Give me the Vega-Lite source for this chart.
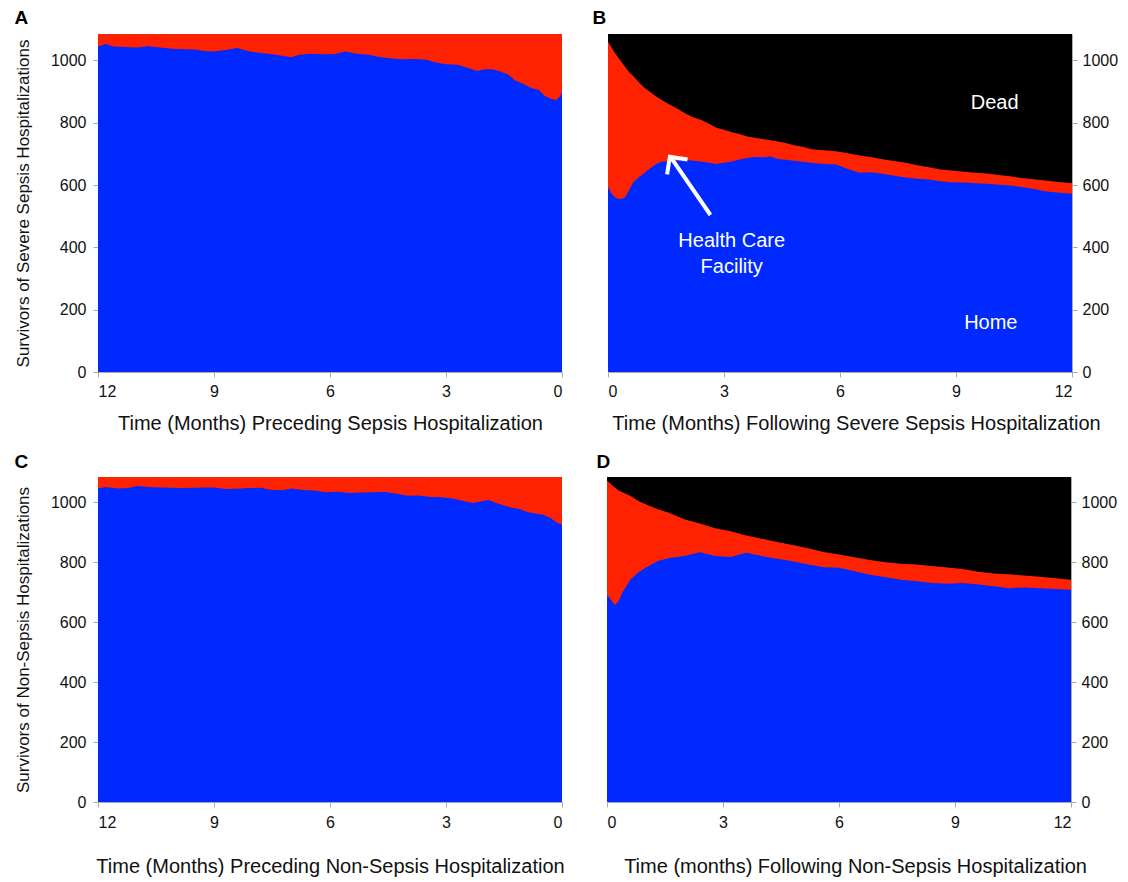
{
  "$schema": "https://vega.github.io/schema/vega-lite/v6.json",
  "padding": {"left": 14, "top": 9, "right": 2, "bottom": 2},
  "background": "white",
  "config": {
    "font": "Liberation Sans",
    "view": {"stroke": null},
    "axis": {"grid": false, "domainColor": "#aaaaaa", "tickColor": "#aaaaaa", "tickSize": 5, "labelFontSize": 16, "labelColor": "#111111", "titleColor": "#111111", "titleFontWeight": "normal", "labelFont": "Liberation Sans", "titleFont": "Liberation Sans"},
    "title": {"fontSize": 19, "fontWeight": "bold", "anchor": "start", "color": "#000000", "font": "Liberation Sans"}
  },
  "datasets": {
    "a": [
      {"m": 12, "home": 1045}, {"m": 11.8, "home": 1053}, {"m": 11.6, "home": 1045}, {"m": 11.3, "home": 1043}, {"m": 11.0, "home": 1042},
      {"m": 10.7, "home": 1046}, {"m": 10.4, "home": 1042}, {"m": 10.1, "home": 1038}, {"m": 9.8, "home": 1036}, {"m": 9.5, "home": 1035},
      {"m": 9.2, "home": 1030}, {"m": 9.0, "home": 1029}, {"m": 8.7, "home": 1034}, {"m": 8.4, "home": 1040}, {"m": 8.1, "home": 1030},
      {"m": 7.8, "home": 1024}, {"m": 7.5, "home": 1020}, {"m": 7.2, "home": 1014}, {"m": 7.0, "home": 1010}, {"m": 6.8, "home": 1018},
      {"m": 6.5, "home": 1022}, {"m": 6.2, "home": 1020}, {"m": 5.9, "home": 1020}, {"m": 5.6, "home": 1029}, {"m": 5.3, "home": 1022},
      {"m": 5.0, "home": 1018}, {"m": 4.7, "home": 1010}, {"m": 4.4, "home": 1006}, {"m": 4.1, "home": 1004}, {"m": 3.8, "home": 1005},
      {"m": 3.5, "home": 1002}, {"m": 3.3, "home": 994}, {"m": 3.0, "home": 988}, {"m": 2.7, "home": 986}, {"m": 2.4, "home": 975},
      {"m": 2.2, "home": 966}, {"m": 2.0, "home": 972}, {"m": 1.8, "home": 972}, {"m": 1.6, "home": 965}, {"m": 1.4, "home": 955},
      {"m": 1.2, "home": 935}, {"m": 1.0, "home": 925}, {"m": 0.8, "home": 912}, {"m": 0.6, "home": 905}, {"m": 0.45, "home": 886},
      {"m": 0.3, "home": 878}, {"m": 0.15, "home": 872}, {"m": 0.05, "home": 885}, {"m": 0, "home": 900}
    ],
    "b": [
      {"m": 0, "alive": 1060, "home": 595}, {"m": 0.08, "alive": 1045, "home": 575}, {"m": 0.16, "alive": 1027, "home": 563},
      {"m": 0.25, "alive": 1012, "home": 556}, {"m": 0.35, "alive": 995, "home": 555}, {"m": 0.45, "alive": 978, "home": 562},
      {"m": 0.55, "alive": 962, "home": 585}, {"m": 0.65, "alive": 950, "home": 608}, {"m": 0.8, "alive": 930, "home": 625},
      {"m": 0.95, "alive": 912, "home": 640}, {"m": 1.1, "alive": 898, "home": 655}, {"m": 1.25, "alive": 884, "home": 668},
      {"m": 1.4, "alive": 872, "home": 676}, {"m": 1.6, "alive": 858, "home": 675}, {"m": 1.8, "alive": 845, "home": 678},
      {"m": 2.0, "alive": 830, "home": 681}, {"m": 2.2, "alive": 818, "home": 678}, {"m": 2.4, "alive": 810, "home": 676},
      {"m": 2.6, "alive": 798, "home": 672}, {"m": 2.8, "alive": 784, "home": 668}, {"m": 3.0, "alive": 778, "home": 672},
      {"m": 3.2, "alive": 770, "home": 676}, {"m": 3.4, "alive": 764, "home": 682}, {"m": 3.6, "alive": 756, "home": 687},
      {"m": 3.8, "alive": 752, "home": 690}, {"m": 4.0, "alive": 748, "home": 689}, {"m": 4.2, "alive": 744, "home": 692},
      {"m": 4.4, "alive": 740, "home": 684}, {"m": 4.6, "alive": 735, "home": 681}, {"m": 4.8, "alive": 728, "home": 678},
      {"m": 5.0, "alive": 724, "home": 676}, {"m": 5.3, "alive": 714, "home": 671}, {"m": 5.6, "alive": 712, "home": 668},
      {"m": 5.9, "alive": 709, "home": 666}, {"m": 6.2, "alive": 702, "home": 652}, {"m": 6.5, "alive": 695, "home": 640},
      {"m": 6.8, "alive": 690, "home": 641}, {"m": 7.1, "alive": 683, "home": 636}, {"m": 7.4, "alive": 677, "home": 630},
      {"m": 7.7, "alive": 672, "home": 624}, {"m": 8.0, "alive": 664, "home": 620}, {"m": 8.3, "alive": 657, "home": 618},
      {"m": 8.6, "alive": 650, "home": 612}, {"m": 8.9, "alive": 647, "home": 608}, {"m": 9.2, "alive": 643, "home": 608},
      {"m": 9.5, "alive": 640, "home": 606}, {"m": 9.8, "alive": 637, "home": 604}, {"m": 10.1, "alive": 632, "home": 601},
      {"m": 10.4, "alive": 628, "home": 599}, {"m": 10.7, "alive": 623, "home": 594}, {"m": 11.0, "alive": 619, "home": 588},
      {"m": 11.3, "alive": 615, "home": 580}, {"m": 11.6, "alive": 611, "home": 576}, {"m": 12.0, "alive": 606, "home": 572}
    ],
    "c": [
      {"m": 12, "home": 1047}, {"m": 11.8, "home": 1052}, {"m": 11.5, "home": 1047}, {"m": 11.2, "home": 1048}, {"m": 11.0, "home": 1055},
      {"m": 10.7, "home": 1052}, {"m": 10.4, "home": 1050}, {"m": 10.1, "home": 1049}, {"m": 9.8, "home": 1048}, {"m": 9.5, "home": 1049},
      {"m": 9.2, "home": 1050}, {"m": 9.0, "home": 1050}, {"m": 8.7, "home": 1045}, {"m": 8.4, "home": 1046}, {"m": 8.1, "home": 1048},
      {"m": 7.8, "home": 1049}, {"m": 7.5, "home": 1042}, {"m": 7.2, "home": 1042}, {"m": 7.0, "home": 1047}, {"m": 6.7, "home": 1042},
      {"m": 6.4, "home": 1040}, {"m": 6.1, "home": 1034}, {"m": 5.8, "home": 1036}, {"m": 5.5, "home": 1032}, {"m": 5.2, "home": 1033},
      {"m": 4.9, "home": 1034}, {"m": 4.6, "home": 1035}, {"m": 4.3, "home": 1030}, {"m": 4.0, "home": 1022}, {"m": 3.7, "home": 1023},
      {"m": 3.4, "home": 1018}, {"m": 3.1, "home": 1017}, {"m": 2.8, "home": 1012}, {"m": 2.5, "home": 1003}, {"m": 2.3, "home": 998},
      {"m": 2.1, "home": 1003}, {"m": 1.9, "home": 1008}, {"m": 1.7, "home": 998}, {"m": 1.5, "home": 990}, {"m": 1.3, "home": 982},
      {"m": 1.1, "home": 978}, {"m": 0.9, "home": 968}, {"m": 0.7, "home": 963}, {"m": 0.5, "home": 960}, {"m": 0.3, "home": 948},
      {"m": 0.15, "home": 935}, {"m": 0.05, "home": 927}, {"m": 0, "home": 927}
    ],
    "d": [
      {"m": 0, "alive": 1073, "home": 692}, {"m": 0.1, "alive": 1062, "home": 675}, {"m": 0.2, "alive": 1050, "home": 658},
      {"m": 0.3, "alive": 1040, "home": 670}, {"m": 0.4, "alive": 1034, "home": 700}, {"m": 0.5, "alive": 1028, "home": 720},
      {"m": 0.6, "alive": 1022, "home": 742}, {"m": 0.8, "alive": 1006, "home": 765}, {"m": 1.0, "alive": 994, "home": 782},
      {"m": 1.3, "alive": 978, "home": 804}, {"m": 1.6, "alive": 966, "home": 815}, {"m": 2.0, "alive": 944, "home": 821},
      {"m": 2.4, "alive": 930, "home": 834}, {"m": 2.8, "alive": 914, "home": 821}, {"m": 3.2, "alive": 904, "home": 818},
      {"m": 3.6, "alive": 890, "home": 832}, {"m": 4.0, "alive": 879, "home": 821}, {"m": 4.4, "alive": 868, "home": 812},
      {"m": 4.8, "alive": 858, "home": 804}, {"m": 5.2, "alive": 847, "home": 793}, {"m": 5.6, "alive": 835, "home": 784},
      {"m": 6.0, "alive": 826, "home": 782}, {"m": 6.4, "alive": 817, "home": 770}, {"m": 6.8, "alive": 808, "home": 759},
      {"m": 7.2, "alive": 800, "home": 750}, {"m": 7.6, "alive": 795, "home": 742}, {"m": 8.0, "alive": 793, "home": 737},
      {"m": 8.4, "alive": 788, "home": 731}, {"m": 8.8, "alive": 783, "home": 729}, {"m": 9.2, "alive": 778, "home": 731},
      {"m": 9.6, "alive": 769, "home": 726}, {"m": 10.0, "alive": 763, "home": 720}, {"m": 10.4, "alive": 760, "home": 714},
      {"m": 10.8, "alive": 756, "home": 716}, {"m": 11.2, "alive": 752, "home": 714}, {"m": 11.6, "alive": 747, "home": 711},
      {"m": 12.0, "alive": 742, "home": 709}
    ]
  },
  "spacing": 20,
  "vconcat": [
    {
      "spacing": 29,
      "hconcat": [
        {
          "width": 464, "height": 338,
          "title": {"text": "A", "offset": 6},
          "data": {"name": "a"},
          "layer": [
            {"mark": {"type": "area", "color": "#ff2200"},
             "encoding": {
               "x": {"field": "m", "type": "quantitative", "title": "Time (Months) Preceding Sepsis Hospitalization",
                     "scale": {"domain": [0, 12], "reverse": true, "nice": false, "zero": false},
                     "axis": {"values": [0, 3, 6, 9, 12], "titleFontSize": 20, "labelPadding": 6, "titlePadding": 14, "labelDx": 5}},
               "y": {"datum": 1085, "type": "quantitative", "title": "Survivors of Severe Sepsis Hospitalizations",
                     "scale": {"domain": [0, 1085], "nice": false},
                     "axis": {"values": [0, 200, 400, 600, 800, 1000], "format": "d", "titleFontSize": 17, "titlePadding": 18, "labelPadding": 7}}}},
            {"mark": {"type": "area", "color": "#0029ff"},
             "encoding": {
               "x": {"field": "m", "type": "quantitative", "title": "Time (Months) Preceding Sepsis Hospitalization"},
               "y": {"field": "home", "type": "quantitative", "title": "Survivors of Severe Sepsis Hospitalizations"}}}
          ]
        },
        {
          "width": 464, "height": 338,
          "title": {"text": "B", "dx": -15, "offset": 6},
          "data": {"name": "b"},
          "layer": [
            {"mark": {"type": "area", "color": "#000000"},
             "encoding": {
               "x": {"field": "m", "type": "quantitative", "title": "Time (Months) Following Severe Sepsis Hospitalization",
                     "scale": {"domain": [0, 12], "nice": false, "zero": false},
                     "axis": {"values": [0, 3, 6, 9, 12], "titleFontSize": 20, "labelPadding": 6, "titlePadding": 14, "labelDx": 5, "titleX": 248}},
               "y": {"datum": 1085, "type": "quantitative", "title": null,
                     "scale": {"domain": [0, 1085], "nice": false},
                     "axis": {"orient": "right", "values": [0, 200, 400, 600, 800, 1000], "format": "d", "labelPadding": 5}}}},
            {"mark": {"type": "area", "color": "#ff2200"},
             "encoding": {
               "x": {"field": "m", "type": "quantitative", "title": "Time (Months) Following Severe Sepsis Hospitalization"},
               "y": {"field": "alive", "type": "quantitative", "title": null}}},
            {"mark": {"type": "area", "color": "#0029ff"},
             "encoding": {
               "x": {"field": "m", "type": "quantitative", "title": "Time (Months) Following Severe Sepsis Hospitalization"},
               "y": {"field": "home", "type": "quantitative", "title": null}}},
            {"data": {"values": [{"label": "Dead"}]},
             "mark": {"type": "text", "color": "white", "fontSize": 20, "align": "center", "baseline": "middle"},
             "encoding": {"text": {"field": "label"}, "x": {"datum": 10.0, "type": "quantitative"}, "y": {"datum": 863, "type": "quantitative"}}},
            {"data": {"values": [{"label": "Home"}]},
             "mark": {"type": "text", "color": "white", "fontSize": 20, "align": "center", "baseline": "middle"},
             "encoding": {"text": {"field": "label"}, "x": {"datum": 9.9, "type": "quantitative"}, "y": {"datum": 157, "type": "quantitative"}}},
            {"data": {"values": [{"label": "Health Care\nFacility"}]},
             "mark": {"type": "text", "color": "white", "fontSize": 20, "lineHeight": 26, "lineBreak": "\n", "align": "center", "baseline": "middle"},
             "encoding": {"text": {"field": "label"}, "x": {"datum": 3.2, "type": "quantitative"}, "y": {"datum": 420, "type": "quantitative"}}},
            {"data": {"values": [{"label": "arrow"}]},
             "mark": {"type": "rule", "color": "white", "strokeWidth": 4},
             "encoding": {"x": {"datum": 2.65, "type": "quantitative"}, "y": {"datum": 504, "type": "quantitative"},
                          "x2": {"datum": 1.63}, "y2": {"datum": 688}}},
            {"data": {"values": [{"label": "arrowhead"}]},
             "mark": {"type": "point", "shape": "M-0.8,0.8L0,0L0.8,0.8", "filled": false, "stroke": "white", "strokeWidth": 4, "opacity": 1, "size": 1000, "angle": 324},
             "encoding": {"x": {"datum": 1.6, "type": "quantitative"}, "y": {"datum": 691, "type": "quantitative"}}}
          ]
        }
      ]
    },
    {
      "spacing": 31,
      "hconcat": [
        {
          "width": 464, "height": 325,
          "title": {"text": "C", "offset": 5},
          "data": {"name": "c"},
          "layer": [
            {"mark": {"type": "area", "color": "#ff2200"},
             "encoding": {
               "x": {"field": "m", "type": "quantitative", "title": "Time (Months) Preceding Non-Sepsis Hospitalization",
                     "scale": {"domain": [0, 12], "reverse": true, "nice": false, "zero": false},
                     "axis": {"values": [0, 3, 6, 9, 12], "titleFontSize": 20, "labelPadding": 7, "titlePadding": 26}},
               "y": {"datum": 1085, "type": "quantitative", "title": "Survivors of Non-Sepsis Hospitalizations",
                     "scale": {"domain": [0, 1085], "nice": false},
                     "axis": {"values": [0, 200, 400, 600, 800, 1000], "format": "d", "titleFontSize": 17, "titlePadding": 18, "labelPadding": 7}}}},
            {"mark": {"type": "area", "color": "#0029ff"},
             "encoding": {
               "x": {"field": "m", "type": "quantitative", "title": "Time (Months) Preceding Non-Sepsis Hospitalization"},
               "y": {"field": "home", "type": "quantitative", "title": "Survivors of Non-Sepsis Hospitalizations"}}}
          ]
        },
        {
          "width": 464, "height": 325,
          "title": {"text": "D", "dx": -10, "offset": 5},
          "data": {"name": "d"},
          "layer": [
            {"mark": {"type": "area", "color": "#000000"},
             "encoding": {
               "x": {"field": "m", "type": "quantitative", "title": "Time (months) Following Non-Sepsis Hospitalization",
                     "scale": {"domain": [0, 12], "nice": false, "zero": false},
                     "axis": {"values": [0, 3, 6, 9, 12], "titleFontSize": 20, "labelPadding": 7, "titlePadding": 26, "labelDx": 5, "titleX": 248}},
               "y": {"datum": 1085, "type": "quantitative", "title": null,
                     "scale": {"domain": [0, 1085], "nice": false},
                     "axis": {"orient": "right", "values": [0, 200, 400, 600, 800, 1000], "format": "d", "labelPadding": 5}}}},
            {"mark": {"type": "area", "color": "#ff2200"},
             "encoding": {
               "x": {"field": "m", "type": "quantitative", "title": "Time (months) Following Non-Sepsis Hospitalization"},
               "y": {"field": "alive", "type": "quantitative", "title": null}}},
            {"mark": {"type": "area", "color": "#0029ff"},
             "encoding": {
               "x": {"field": "m", "type": "quantitative", "title": "Time (months) Following Non-Sepsis Hospitalization"},
               "y": {"field": "home", "type": "quantitative", "title": null}}}
          ]
        }
      ]
    }
  ]
}
